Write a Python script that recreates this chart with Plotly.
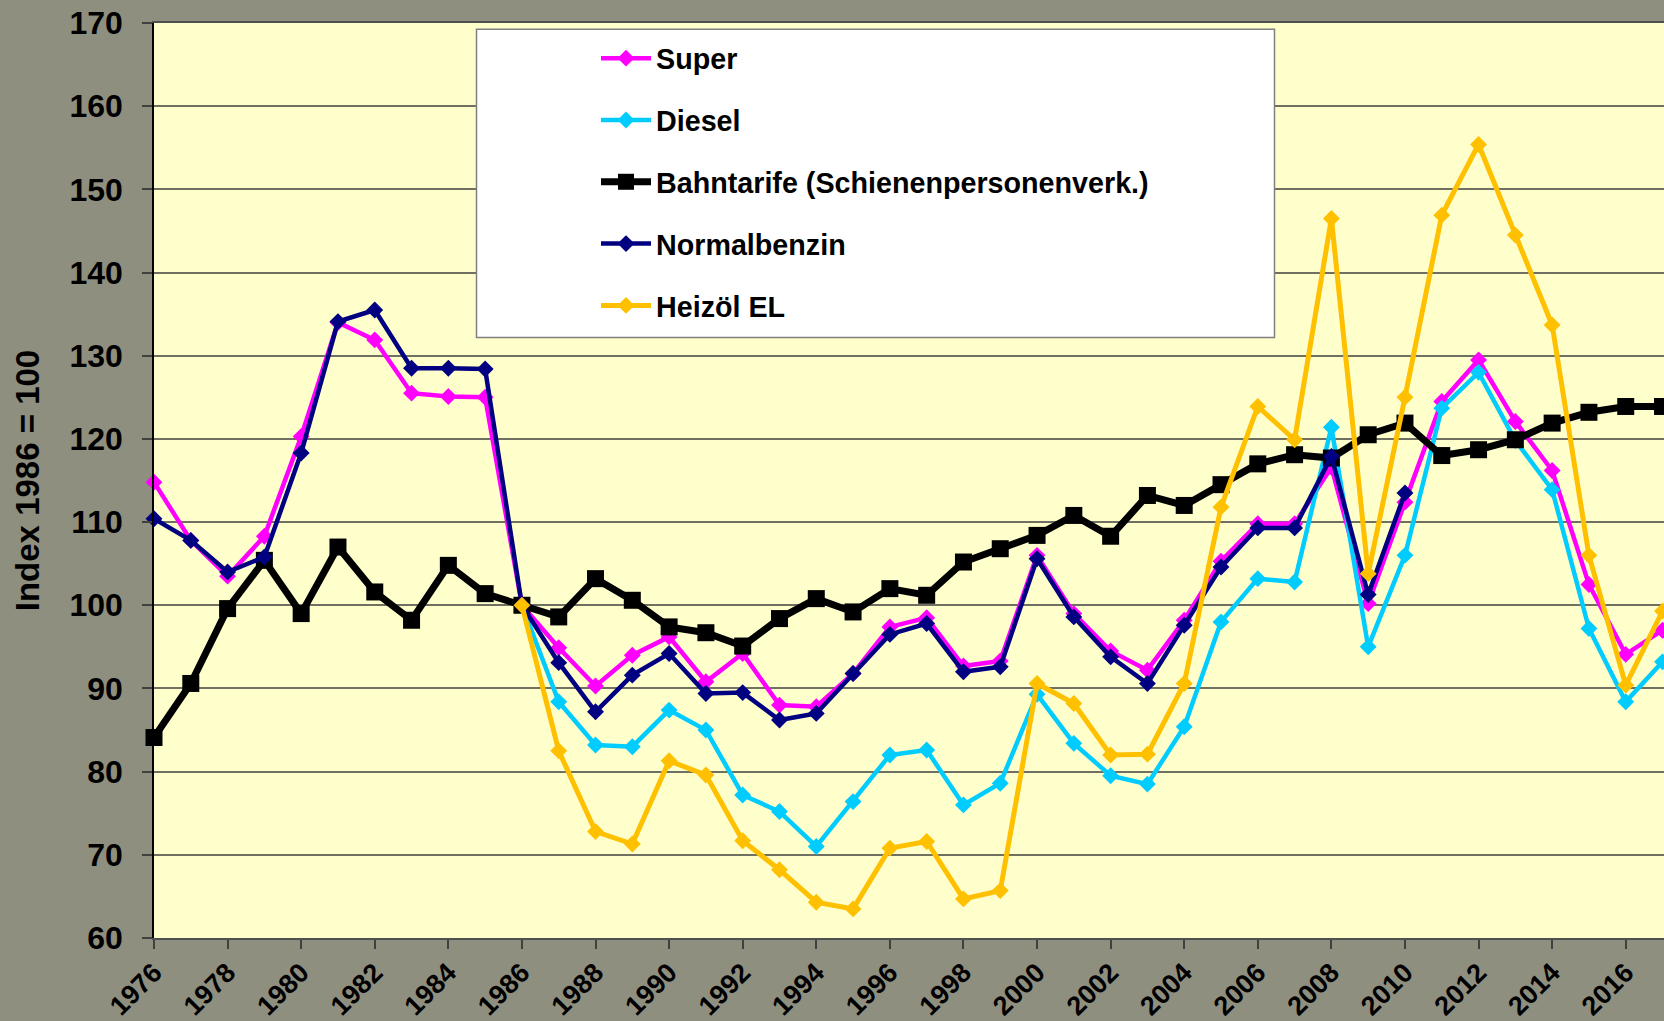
import plotly.graph_objects as go

years = list(range(1976, 2018))

super_benzin = [114.8, 107.8, 103.5, 108.3, 120.3, 134.0, 131.9, 125.5, 125.1, 125.0,
                100.0, 94.9, 90.3, 94.0, 96.2, 90.8, 94.2, 88.0, 87.8, 91.8,
                97.4, 98.5, 92.7, 93.3, 106.0, 99.0, 94.5, 92.2, 98.2, 105.3,
                109.8, 109.8, 116.6, 100.2, 112.4, 124.5, 129.5, 122.1, 116.2, 102.5,
                94.1, 97.0]

diesel = [None] * 10 + [
    100.0, 88.4, 83.2, 83.0, 87.4, 85.0, 77.2, 75.2, 71.0, 76.4,
    82.0, 82.6, 76.0, 78.6, 89.3, 83.4, 79.5, 78.5, 85.4, 98.0,
    103.2, 102.8, 121.4, 95.0, 106.0, 123.7, 128.0, 119.8, 113.9, 97.2,
    88.4, 93.2]

bahntarife = [84.1, 90.6, 99.6, 105.4, 99.0, 107.0, 101.6, 98.2, 104.8, 101.4,
              100.0, 98.6, 103.2, 100.6, 97.4, 96.7, 95.1, 98.4, 100.8, 99.2,
              102.0, 101.2, 105.2, 106.8, 108.4, 110.8, 108.3, 113.2, 112.0, 114.5,
              117.0, 118.1, 117.7, 120.5, 121.9, 118.0, 118.7, 119.9, 121.9, 123.2,
              123.9, 123.9]

normalbenzin = [110.4, 107.8, 104.0, 105.8, 118.3, 134.1, 135.5, 128.5, 128.5, 128.4,
                100.0, 93.1, 87.2, 91.6, 94.2, 89.4, 89.5, 86.2, 87.0, 91.8,
                96.5, 97.8, 92.0, 92.6, 105.6, 98.6, 93.8, 90.6, 97.6, 104.6,
                109.3, 109.3, 117.9, 101.3, 113.5] + [None] * 7

heizoel = [None] * 10 + [
    100.0, 82.5, 72.8, 71.3, 81.3, 79.6, 71.7, 68.2, 64.3, 63.5,
    70.8, 71.6, 64.7, 65.7, 90.6, 88.2, 82.0, 82.1, 90.6, 111.8,
    123.9, 119.9, 146.5, 103.8, 125.0, 146.9, 155.4, 144.5, 133.7, 106.0,
    90.4, 99.3]

series_names = ["Super", "Diesel", "Bahntarife (Schienenpersonenverk.)", "Normalbenzin", "Heizöl EL"]
y_title = "Index 1986 = 100"

FONT = "Liberation Sans, Arial, sans-serif"
W, H = 1664, 1021
L, T, B = 154, 23, 83
PW = W - L
PH = H - T - B

def px_x(p):
    return (p - L) / PW

def px_y(p):
    return 1 - (p - T) / PH

styles = [
    dict(color="#FF00FF", width=4.5, symbol="diamond", size=13),
    dict(color="#00CCFF", width=4.5, symbol="diamond", size=13),
    dict(color="#000000", width=7, symbol="square", size=17),
    dict(color="#000080", width=4.5, symbol="diamond", size=13),
    dict(color="#FFC000", width=5, symbol="diamond", size=13),
]
data = [super_benzin, diesel, bahntarife, normalbenzin, heizoel]

fig = go.Figure()
for name, vals, st in zip(series_names, data, styles):
    fig.add_trace(go.Scatter(
        x=years, y=vals, name=name, mode="lines+markers",
        line=dict(color=st["color"], width=st["width"]),
        marker=dict(symbol=st["symbol"], size=st["size"], color=st["color"]),
        cliponaxis=False, legendgroup=name, connectgaps=False,
    ))

fig.add_shape(type="rect", xref="paper", yref="paper",
              x0=px_x(476.5), x1=px_x(1274.5), y0=px_y(337.5), y1=px_y(29.3),
              fillcolor="white", line=dict(color="#7F7F7F", width=1.5), layer="above")

fig.update_layout(
    width=W, height=H,
    margin=dict(l=L, r=0, t=T, b=B, pad=0, autoexpand=False),
    paper_bgcolor="#8F8F80",
    plot_bgcolor="#FFFFCC",
    font=dict(family=FONT, color="black", size=28, weight="bold"),
    showlegend=True,
    legend=dict(
        x=px_x(596), y=px_y(33), xanchor="left", yanchor="top",
        bgcolor="rgba(0,0,0,0)", borderwidth=0,
        font=dict(family=FONT, size=28.7, color="black", weight="bold"),
        itemwidth=50, traceorder="grouped", tracegroupgap=21.5,
    ),
    xaxis=dict(
        range=[1976, 2017.04], tick0=1976, dtick=2, tickangle=-45,
        showgrid=False, zeroline=False, automargin=False,
        showline=True, linecolor="#505050", linewidth=2, mirror=True,
        ticks="outside", ticklen=9, tickcolor="#404040", tickwidth=1.5,
        ticklabelstandoff=-3,
        tickfont=dict(family=FONT, size=27, color="black", weight="bold"),
    ),
    yaxis=dict(
        range=[60, 170], dtick=10, automargin=False,
        showgrid=True, gridcolor="#707062", gridwidth=1.5,
        zeroline=False,
        showline=True, linecolor="black", linewidth=1.5,
        ticks="outside", ticklen=10, tickcolor="#404040", tickwidth=1.5,
        ticklabelstandoff=13,
        tickfont=dict(family=FONT, size=32, color="black", weight="bold"),
        title=dict(text=y_title, standoff=20,
                   font=dict(family=FONT, size=33, color="black", weight="bold")),
    ),
)

fig.write_html(
    "out.html",
    config={"displayModeBar": False},
    post_script="document.body.style.margin='0';document.body.style.padding='0';"
                "document.body.style.background='#8F8F80';document.body.style.overflow='hidden';",
)
